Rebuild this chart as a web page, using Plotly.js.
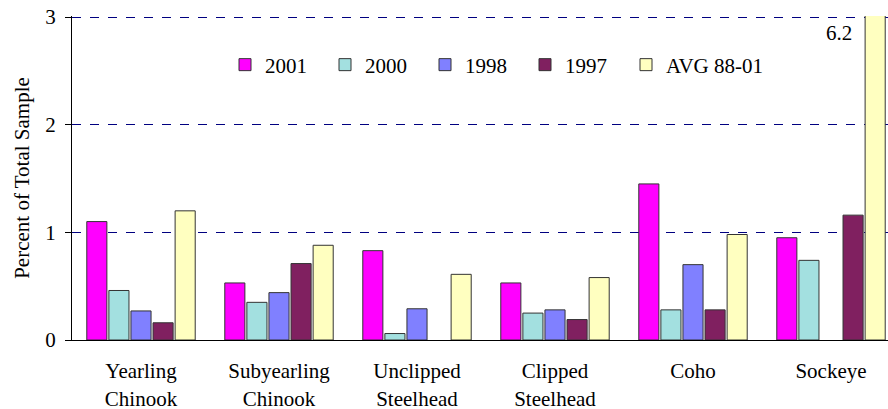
<!DOCTYPE html>
<html><head><meta charset="utf-8">
<script src="https://cdn.plot.ly/plotly-3.0.1.min.js"></script>
</head><body style="margin:0"><div id="chart"></div>
<script>
const categories = ["Yearling<br>Chinook","Subyearling<br>Chinook","Unclipped<br>Steelhead","Clipped<br>Steelhead","Coho","Sockeye"];
const catPos = [0,1,2,3,4,5];
const boundaries = [-0.5,0.5,1.5,2.5,3.5,4.5,5.5];
const seriesNames = ["2001","2000","1998","1997","AVG 88-01"];
const v2001 = [1.10,0.53,0.83,0.53,1.45,0.95];
const v2000 = [0.46,0.35,0.06,0.25,0.28,0.74];
const v1998 = [0.27,0.44,0.29,0.28,0.70,null];
const v1997 = [0.16,0.71,null,0.19,0.28,1.16];
const vAvg  = [1.20,0.88,0.61,0.58,0.98,6.2];
const yTicks = [0,1,2,3];
const avgLabel = "6.2";

const colors = ["#FF00FF","#A3E0E0","#8080FF","#802060","#FFFFC0"];
const allVals = [v2001,v2000,v1998,v1997,vAvg];
const FAM = "Liberation Serif";
function mkFont(){ return {family:FAM, size:21, color:"#000000"}; }

const data = allVals.map((vals,i)=>({
  type:"bar", x:catPos, y:vals, name:seriesNames[i],
  legend: i===4 ? "legend2" : "legend",
  marker:{color:colors[i], line:{color:"#333333", width:1}},
  hoverinfo:"skip"
}));

const xr = [-0.5, -0.5 + 816/138];
const plotH = 409 - 16 - 69;
const layout = {
  width:888, height:409,
  margin:{l:72, r:0, t:16, b:69},
  paper_bgcolor:"#ffffff", plot_bgcolor:"#ffffff",
  font:mkFont(),
  barmode:"group", bargap:0.2, bargroupgap:0.09,
  showlegend:true,
  legend:{orientation:"h", x:(225-72)/816, xanchor:"left", y:(340-65)/plotH, yanchor:"middle",
          entrywidth:55, entrywidthmode:"pixels", font:mkFont(), bgcolor:"rgba(0,0,0,0)",
          traceorder:"normal"},
  legend2:{orientation:"h", x:(626-72)/816, xanchor:"left", y:(340-65)/plotH, yanchor:"middle",
          font:mkFont(), bgcolor:"rgba(0,0,0,0)"},
  xaxis:{range:xr, tickvals:catPos, ticktext:categories, ticks:"", showline:true,
         linecolor:"#000000", linewidth:1, showgrid:false, zeroline:false, tickfont:mkFont(),
         ticklabelstandoff:12},
  xaxis2:{overlaying:"x", matches:"x", range:xr, anchor:"y", tickvals:boundaries, ticks:"inside", ticklen:7,
          tickcolor:"#000000", showticklabels:false, showgrid:false, zeroline:false, showline:false},
  xaxis3:{overlaying:"x", matches:"x", range:xr, anchor:"y", tickvals:boundaries, ticks:"outside", ticklen:6,
          tickcolor:"#000000", showticklabels:false, showgrid:false, zeroline:false, showline:false},
  yaxis:{range:[0,3.01], tickvals:yTicks, ticks:"outside", ticklen:6, tickcolor:"#000000",
         showline:true, linecolor:"#000000", linewidth:1, zeroline:false,
         showgrid:true, gridcolor:"#000080", griddash:"dash", gridwidth:1,
         tickfont:mkFont(), ticklabelstandoff:5,
         title:{text:"Percent of Total Sample", font:mkFont(), standoff:9}},
  annotations:[{x:5.058, y:2.85, xref:"x", yref:"y", text:avgLabel, showarrow:false, font:mkFont()}]
};
Plotly.newPlot("chart", data, layout, {displayModeBar:false});
</script></body></html>
